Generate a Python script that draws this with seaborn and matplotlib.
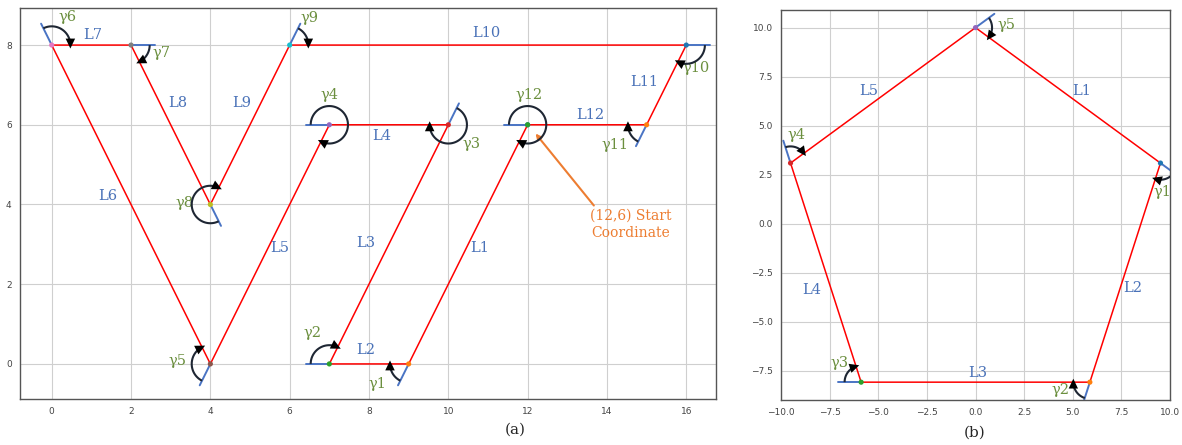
'''
Illustration des angles de rotation (gamma) le long de deux trajectoires.
'''

import matplotlib
matplotlib.use('Agg')
import matplotlib.pyplot as plt
import numpy as np
import seaborn as sns

# (a) sommets dans l'ordre de parcours, depart en (12,6)
path_a_x = [12, 9, 7, 10, 7, 4, 0, 2, 4, 6, 16, 15, 12]
path_a_y = [6, 0, 0, 6, 6, 0, 8, 8, 4, 8, 8, 6, 6]
seg_names_a = ['L1', 'L2', 'L3', 'L4', 'L5', 'L6', 'L7', 'L8', 'L9', 'L10', 'L11', 'L12']
gamma_names_a = ['γ1', 'γ2', 'γ3', 'γ4', 'γ5', 'γ6', 'γ7', 'γ8', 'γ9', 'γ10', 'γ11', 'γ12']
start_text = '(12,6) Start\nCoordinate'

# (b) pentagone
path_b_x = [0.0, 9.51, 5.88, -5.88, -9.51, 0.0]
path_b_y = [10.0, 3.09, -8.09, -8.09, 3.09, 10.0]
seg_names_b = ['L1', 'L2', 'L3', 'L4', 'L5']
gamma_names_b = ['γ1', 'γ2', 'γ3', 'γ4', 'γ5']

# positions des etiquettes
seg_pos_a = [(10.8, 2.9), (7.93, 0.35), (7.93, 3.03), (8.31, 5.71), (5.74, 2.9), (1.41, 4.21),
             (1.03, 8.25), (3.17, 6.55), (4.79, 6.55), (10.96, 8.3), (14.94, 7.07), (13.58, 6.24)]
gamma_pos_a = [(8.21, -0.5), (6.57, 0.78), (10.58, 5.51), (7.0, 6.75), (3.17, 0.08), (0.4, 8.7),
               (2.77, 7.8), (3.35, 4.04), (6.5, 8.68), (16.25, 7.42), (14.2, 5.49), (12.04, 6.75)]
seg_pos_b = [(5.47, 6.75), (8.1, -3.3), (0.1, -7.6), (-8.4, -3.4), (-5.5, 6.75)]
gamma_pos_b = [(9.6, 1.6), (4.35, -8.5), (-6.97, -7.1), (-9.2, 4.5), (1.6, 10.15)]

BLUE_TXT = '#4a72b8'
GREEN_TXT = '#6b8f3e'
ORANGE = '#ed7d31'
TANGENT = '#4a74c4'
ARC = '#1e2633'


def draw_angle(ax, p0, p1, p2, ext, radius, head):
    """
    Prolongement du segment entrant (bleu) + arc horaire vers le segment sortant.
    head = longueur de la tete de fleche (unites de donnees)
    """
    p0, p1, p2 = np.array(p0, float), np.array(p1, float), np.array(p2, float)
    d_in = (p1 - p0) / np.linalg.norm(p1 - p0)
    d_out = (p2 - p1) / np.linalg.norm(p2 - p1)
    e = p1 + d_in * ext
    ax.plot([p1[0], e[0]], [p1[1], e[1]], color=TANGENT, lw=1.4, zorder=2)

    a0 = np.arctan2(d_in[1], d_in[0])
    a1 = np.arctan2(d_out[1], d_out[0])
    sweep = (a0 - a1) % (2 * np.pi)
    th = a0 - np.linspace(0, 1, 60) * sweep
    xs = p1[0] + radius * np.cos(th)
    ys = p1[1] + radius * np.sin(th)
    ax.plot(xs, ys, color=ARC, lw=1.5, zorder=4, solid_capstyle='butt')

    # tete de fleche, orientee selon la tangente (sens horaire)
    tan = np.array([np.sin(th[-1]), -np.cos(th[-1])])
    nrm = np.array([-tan[1], tan[0]])
    end = np.array([xs[-1], ys[-1]])
    tip = end + tan * head * 0.35
    base = end - tan * head * 0.65
    tri = np.array([tip, base + nrm * head * 0.48, base - nrm * head * 0.48])
    ax.fill(tri[:, 0], tri[:, 1], color='black', lw=0, zorder=5)


def draw_path(ax, xs, ys, seg_names, seg_pos, gamma_names, gamma_pos, ext, radius, head, n_pts):
    sns.lineplot(x=xs, y=ys, sort=False, estimator=None, color='red', lw=1.1, ax=ax, zorder=3)
    px, py = xs[-n_pts:], ys[-n_pts:]
    sns.scatterplot(x=px, y=py, hue=[i % 10 for i in range(n_pts)], palette='tab10',
                    legend=False, s=14, edgecolor='none', ax=ax, zorder=6)
    n = len(gamma_names)
    for k in range(1, n + 1):
        nxt = (k % n) + 1
        draw_angle(ax, (xs[k - 1], ys[k - 1]), (xs[k], ys[k]), (xs[nxt], ys[nxt]),
                   ext, radius, head)
    for name, (x, y) in zip(seg_names, seg_pos):
        ax.text(x, y, name, color=BLUE_TXT, fontsize=10.5, family='DejaVu Serif',
                ha='center', va='center')
    for name, (x, y) in zip(gamma_names, gamma_pos):
        ax.text(x, y, name, color=GREEN_TXT, fontsize=10.5, family='DejaVu Serif',
                ha='center', va='center')


def style_axes(ax):
    ax.grid(True, color='#cfcfcf', lw=0.8)
    ax.tick_params(labelsize=6.5, colors='#444444', length=2.5, width=0.6)
    for s in ax.spines.values():
        s.set_color('#555555')
        s.set_linewidth(1.0)


sns.set_theme(style='whitegrid')
fig = plt.figure(figsize=(11.82, 4.45), dpi=100)
ax_a = fig.add_axes([20 / 1182, 46 / 445, 696 / 1182, 391 / 445])
ax_b = fig.add_axes([781 / 1182, 45 / 445, 389 / 1182, 390 / 445])

# (a)
draw_path(ax_a, path_a_x, path_a_y, seg_names_a, seg_pos_a, gamma_names_a, gamma_pos_a,
          ext=0.6, radius=0.47, head=0.25, n_pts=len(path_a_x))
ax_a.annotate(start_text, xy=(12.2, 5.78), xytext=(14.6, 3.5), ha='center', va='center',
              color=ORANGE, fontsize=10, family='DejaVu Serif', linespacing=1.3,
              arrowprops=dict(arrowstyle='-|>', color=ORANGE, lw=1.5, shrinkA=0, shrinkB=0,
                              mutation_scale=8, relpos=(0.08, 1.0)))
ax_a.set_xlim(-0.8, 16.75)
ax_a.set_ylim(-0.88, 8.93)
ax_a.set_xticks(range(0, 17, 2))
ax_a.set_yticks(range(0, 9, 2))
style_axes(ax_a)

# (b)
draw_path(ax_b, path_b_x, path_b_y, seg_names_b, seg_pos_b, gamma_names_b, gamma_pos_b,
          ext=1.2, radius=0.85, head=0.5, n_pts=5)
ax_b.set_xlim(-10, 10)
ax_b.set_ylim(-9.0, 10.9)
ax_b.set_xticks(np.arange(-10, 10.1, 2.5))
ax_b.set_yticks(np.arange(-7.5, 10.1, 2.5))
style_axes(ax_b)

fig.text(515 / 1182, 1 - 430 / 445, '(a)', fontsize=11, family='DejaVu Serif', ha='center', va='center')
fig.text(975 / 1182, 1 - 433 / 445, '(b)', fontsize=11, family='DejaVu Serif', ha='center', va='center')

fig.savefig('out.png', dpi=100)
